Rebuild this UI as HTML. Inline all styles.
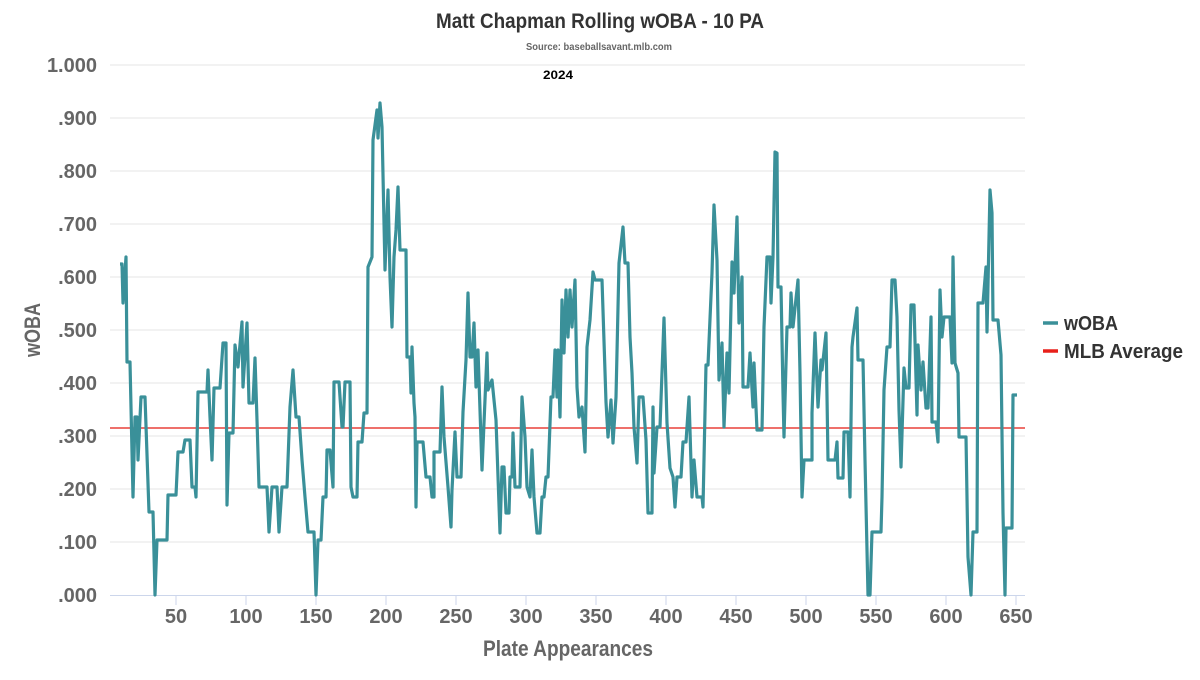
<!DOCTYPE html>
<html><head><meta charset="utf-8"><style>
body{margin:0;background:#fff}
svg text{font-family:"Liberation Sans Narrow","Liberation Sans",sans-serif;font-weight:bold}
</style></head><body>
<svg width="1200" height="675" viewBox="0 0 1200 675" xmlns="http://www.w3.org/2000/svg">
<rect width="1200" height="675" fill="#fff"/>
<text x="600" y="28" text-anchor="middle" font-size="21" fill="#333" textLength="328" lengthAdjust="spacingAndGlyphs">Matt Chapman Rolling wOBA - 10 PA</text>
<text x="599" y="50" text-anchor="middle" font-size="10" fill="#666" textLength="146" lengthAdjust="spacingAndGlyphs">Source: baseballsavant.mlb.com</text>
<text x="558" y="79" text-anchor="middle" font-size="12" fill="#000" textLength="30" lengthAdjust="spacingAndGlyphs">2024</text>
<g stroke="#e6e6e6" stroke-width="1">
<line x1="110" x2="1025" y1="65" y2="65"/><line x1="110" x2="1025" y1="118" y2="118"/><line x1="110" x2="1025" y1="171" y2="171"/><line x1="110" x2="1025" y1="224" y2="224"/><line x1="110" x2="1025" y1="277" y2="277"/><line x1="110" x2="1025" y1="330" y2="330"/><line x1="110" x2="1025" y1="383" y2="383"/><line x1="110" x2="1025" y1="436" y2="436"/><line x1="110" x2="1025" y1="489" y2="489"/><line x1="110" x2="1025" y1="542" y2="542"/>
</g>
<line x1="110" x2="1025" y1="595.5" y2="595.5" stroke="#ccd6eb"/>
<g stroke="#ccd6eb"><line x1="176" x2="176" y1="595" y2="605"/><line x1="246" x2="246" y1="595" y2="605"/><line x1="316" x2="316" y1="595" y2="605"/><line x1="386" x2="386" y1="595" y2="605"/><line x1="456" x2="456" y1="595" y2="605"/><line x1="526" x2="526" y1="595" y2="605"/><line x1="596" x2="596" y1="595" y2="605"/><line x1="666" x2="666" y1="595" y2="605"/><line x1="736" x2="736" y1="595" y2="605"/><line x1="806" x2="806" y1="595" y2="605"/><line x1="876" x2="876" y1="595" y2="605"/><line x1="946" x2="946" y1="595" y2="605"/><line x1="1016" x2="1016" y1="595" y2="605"/></g>
<g font-size="20" fill="#666" text-anchor="end">
<text x="97" y="72">1.000</text><text x="97" y="125">.900</text><text x="97" y="178">.800</text><text x="97" y="231">.700</text><text x="97" y="284">.600</text><text x="97" y="337">.500</text><text x="97" y="390">.400</text><text x="97" y="443">.300</text><text x="97" y="496">.200</text><text x="97" y="549">.100</text><text x="97" y="602">.000</text>
</g>
<g font-size="20" fill="#666" text-anchor="middle">
<text x="176" y="623">50</text><text x="246" y="623">100</text><text x="316" y="623">150</text><text x="386" y="623">200</text><text x="456" y="623">250</text><text x="526" y="623">300</text><text x="596" y="623">350</text><text x="666" y="623">400</text><text x="736" y="623">450</text><text x="806" y="623">500</text><text x="876" y="623">550</text><text x="946" y="623">600</text><text x="1016" y="623">650</text>
</g>
<text x="568" y="656" text-anchor="middle" font-size="22" fill="#666" textLength="170" lengthAdjust="spacingAndGlyphs">Plate Appearances</text>
<text transform="translate(40,330) rotate(-90)" text-anchor="middle" font-size="22" fill="#666" textLength="54" lengthAdjust="spacingAndGlyphs">wOBA</text>
<line x1="110" x2="1025" y1="428" y2="428" stroke="#e8403a" stroke-width="1.5"/>
<polyline fill="none" stroke="#3a9099" stroke-width="3.2" stroke-linejoin="round" points="
120,264 122,264 123,303 126,257 127,362 130,362 133,497 135,417 137,417 138,460 141,397 145,397 149,512 153,512 155,595 157,540 167,540 168,495 176,495 178,452 183,452 185,440 190,440 192,487 195,487 196,497 198,392 207,392 208,370 210,417 212,460 214,388 220,388 223,343 226,343 227,505 229,433 233,433 235,345 238,367 242,322 243,387 247,323 249,403 253,403 255,358 257,420 259,487 267,487 269,532 272,487 277,487 279,532 282,487 287,487 290,407 293,370 296,417 299,417 302,460 305,497 308,532 314,532 316,595 318,540 321,540 323,497 326,497 327,450 330,450 333,487 334,382 339,382 342,427 343,427 345,382 350,382 351,487 353,497 357,497 358,442 362,442 364,413 367,413 368,267 372,257 373,140 377,110 378,138 380,103 382,127 385,270 388,190 390,277 392,327 394,257 396,230 398,187 400,250 406,250 407,357 410,357 411,393 412,347 414,403 415,417 416,507 417,442 423,442 426,477 430,477 432,497 434,497 434,452 440,452 442,387 444,437 448,487 451,527 452,490 455,432 457,477 461,477 463,412 466,360 468,293 470,357 472,357 474,323 476,387 478,350 482,470 484,423 487,353 488,390 492,380 496,420 500,533 502,467 504,467 506,513 509,513 510,477 512,477 513,433 515,487 520,487 522,397 525,437 527,487 530,497 532,450 534,497 537,533 540,533 542,497 544,497 546,477 548,477 551,397 553,397 555,350 557,397 558,350 560,417 562,300 564,353 566,290 568,337 570,290 572,327 575,280 577,387 579,417 582,407 585,452 587,347 590,320 593,272 595,280 602,280 606,402 608,437 611,400 613,443 616,397 619,263 623,227 625,263 628,263 630,337 632,373 634,427 637,463 639,397 643,397 646,440 648,513 652,513 653,407 654,473 657,427 660,427 664,318 667,423 670,468 673,477 675,507 677,477 681,477 683,442 686,442 689,397 692,497 694,460 697,497 702,497 703,507 706,365 708,365 712,273 714,205 717,260 719,380 722,343 724,427 727,353 729,393 732,262 734,293 737,217 739,323 742,277 743,387 748,387 750,353 753,407 754,363 757,430 762,430 764,327 767,257 770,257 771,303 773,257 775,152 777,153 778,287 781,287 783,393 784,437 787,327 790,327 791,293 793,327 798,280 800,373 802,497 804,460 812,460 812,413 815,333 818,407 821,360 822,370 826,333 828,460 835,460 837,442 838,478 843,478 844,432 848,432 850,497 852,347 853,337 857,308 858,360 863,360 865,460 868,595 870,595 872,532 881,532 882,497 884,390 887,347 890,347 892,280 895,280 897,317 899,410 901,467 904,368 906,388 909,388 911,305 914,305 917,415 918,345 921,390 923,362 926,408 928,408 931,317 932,422 936,422 938,442 940,290 942,337 944,317 950,317 952,363 953,257 955,363 958,373 959,437 966,437 968,557 971,595 973,532 977,532 978,303 983,303 986,267 987,332 990,190 992,213 993,320 998,320 1001,355 1003,513 1005,595 1006,528 1012,528 1013,395 1017,395"/>
<line x1="1043" x2="1058" y1="323" y2="323" stroke="#3a9099" stroke-width="3.5"/>
<text x="1064" y="330" font-size="20" fill="#333" textLength="54" lengthAdjust="spacingAndGlyphs">wOBA</text>
<line x1="1043" x2="1058" y1="351" y2="351" stroke="#e8201a" stroke-width="3.5"/>
<text x="1064" y="358" font-size="20" fill="#333" textLength="119" lengthAdjust="spacingAndGlyphs">MLB Average</text>
</svg>
</body></html>
